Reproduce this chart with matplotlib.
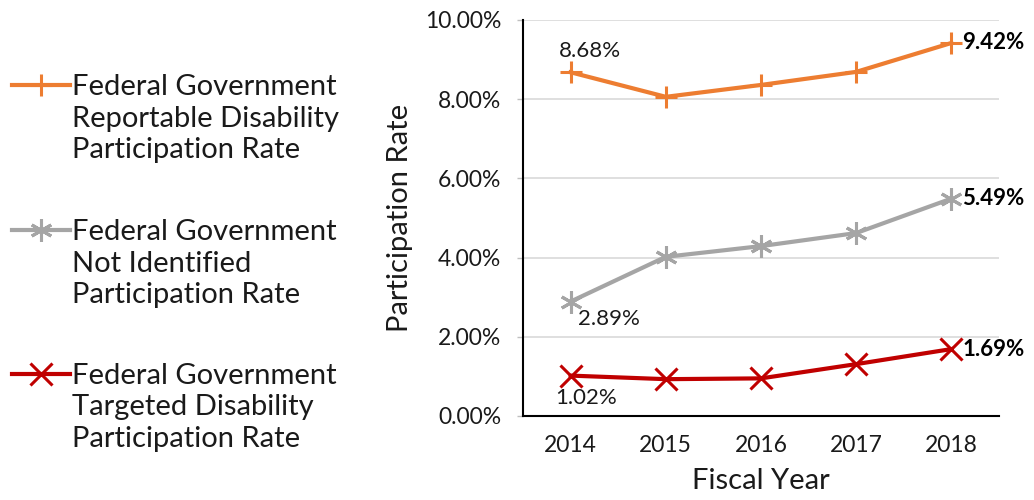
import matplotlib
matplotlib.use("Agg")
import matplotlib.pyplot as plt
from matplotlib.lines import Line2D
from matplotlib.ticker import FuncFormatter

years = ["2014", "2015", "2016", "2017", "2018"]
reportable = [8.68, 8.06, 8.36, 8.69, 9.42]
not_identified = [2.89, 4.02, 4.29, 4.62, 5.49]
targeted = [1.02, 0.93, 0.95, 1.31, 1.69]

labels = [
    ["Federal Government", "Reportable Disability", "Participation Rate"],
    ["Federal Government", "Not Identified", "Participation Rate"],
    ["Federal Government", "Targeted Disability", "Participation Rate"],
]
colors = ["#ED7D31", "#A5A5A5", "#C00000"]
markers = ["+", (6, 2, 0), "x"]

plt.rcParams["font.family"] = ["Lato", "DejaVu Sans"]
TXT = "#1a1a1a"

W, H = 1034, 500
fig = plt.figure(figsize=(W / 100, H / 100), dpi=100)
ax = fig.add_axes([523 / W, 1 - 416 / H, 476 / W, 396 / H])

x = list(range(len(years)))
series = [reportable, not_identified, targeted]
for vals, c, m in zip(series, colors, markers):
    ax.plot(x, vals, color=c, lw=3, marker=m, ms=16, mew=2.2, zorder=3)

ax.set_xlim(-0.5, len(years) - 0.5)
ax.set_ylim(0, 10)
ax.set_yticks([0, 2, 4, 6, 8, 10])
ax.yaxis.set_major_formatter(FuncFormatter(lambda v, p: f"{v:.2f}%"))
ax.set_xticks(x)
ax.set_xticklabels(years)
ax.tick_params(axis="x", length=0, pad=14, labelsize=16.5, labelcolor=TXT)
ax.tick_params(axis="y", length=4.5, width=1, color="#BFBFBF", labelcolor=TXT,
               labelsize=16.5, pad=11)
ax.grid(axis="y", color="#D9D9D9", lw=1.2)
ax.set_axisbelow(True)
for s in ["top", "right"]:
    ax.spines[s].set_visible(False)
ax.spines["left"].set_linewidth(1.5)
ax.spines["bottom"].set_linewidth(1.5)
ax.set_xlabel("Fiscal Year", fontsize=21, labelpad=8, color=TXT)
ax.set_ylabel("Participation Rate", fontsize=21, labelpad=9, color=TXT)

# data labels at first and last points
ax.annotate(f"{reportable[0]:.2f}%", (0, reportable[0]), xytext=(14, 8),
            textcoords="offset points", ha="center", va="bottom", fontsize=16, color=TXT)
ax.annotate(f"{not_identified[0]:.2f}%", (0, not_identified[0]), xytext=(5, -5),
            textcoords="offset points", ha="left", va="top", fontsize=16, color=TXT)
ax.annotate(f"{targeted[0]:.2f}%", (0, targeted[0]), xytext=(-11, -9),
            textcoords="offset points", ha="left", va="top", fontsize=16, color=TXT)
for vals in series:
    ax.annotate(f"{vals[-1]:.2f}%", (len(years) - 1, vals[-1]), xytext=(8, 0),
                textcoords="offset points", ha="left", va="center", fontsize=16,
                fontweight="bold", color="black")

# legend on the left: handle next to the first line of each entry
first_baseline = [95, 240, 384]
line_step = 31.5
for lines, c, m, base in zip(labels, colors, markers, first_baseline):
    hy = 1 - (base - 10) / H
    fig.add_artist(Line2D([12 / W, 70 / W], [hy, hy], color=c, lw=3,
                          transform=fig.transFigure))
    fig.add_artist(Line2D([41 / W], [hy], color=c, marker=m, ms=16, mew=2.2,
                          transform=fig.transFigure))
    for j, txt in enumerate(lines):
        fig.text(72 / W, 1 - (base + j * line_step) / H, txt, ha="left",
                 va="baseline", fontsize=21, color=TXT)

fig.savefig("out.png", dpi=100)
